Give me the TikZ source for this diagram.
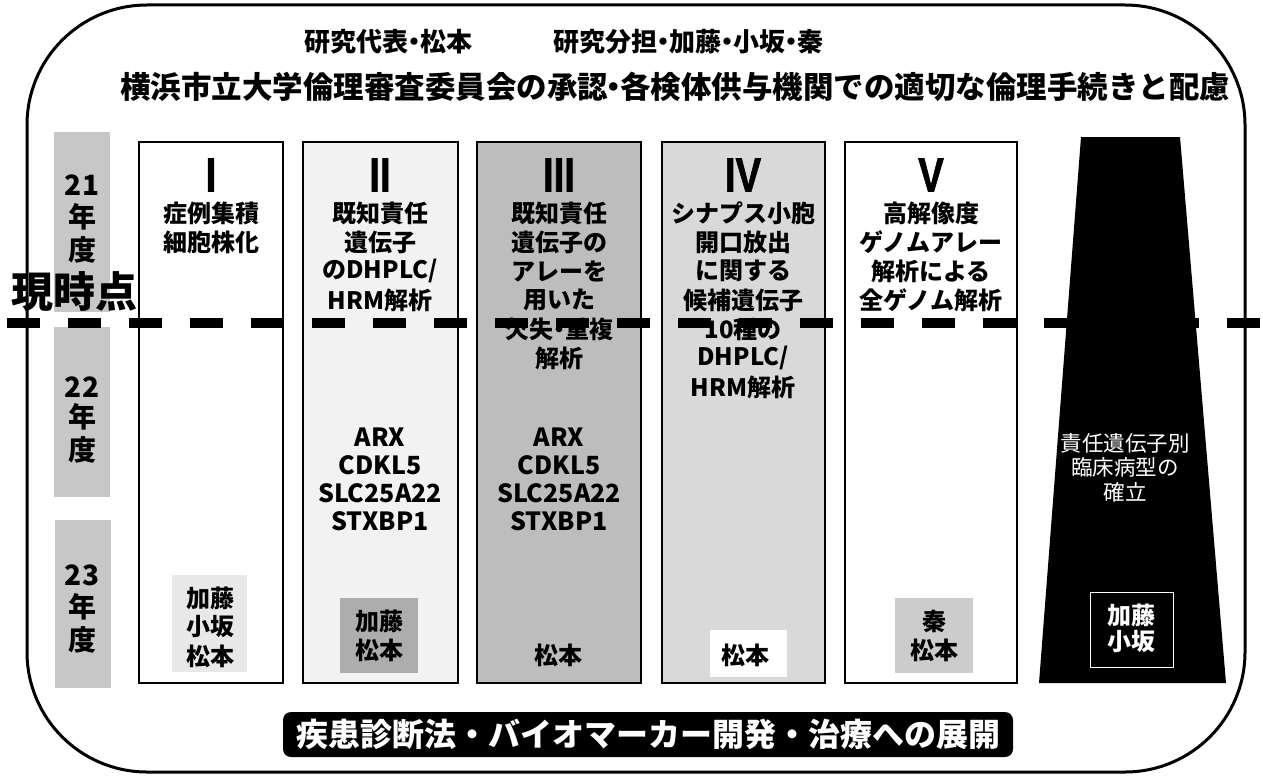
\documentclass[tikz,border=0pt]{standalone}
\usepackage{fontspec}
\setmainfont{Noto Sans CJK JP}
\newfontfamily\romfont{Liberation Sans}[FakeStretch=0.8, FakeBold=1.2]
\newcommand\nd{\makebox[12pt]{・}}
\definecolor{yeargray}{gray}{0.78}
\definecolor{c2gray}{gray}{0.95}
\definecolor{c3gray}{gray}{0.74}
\definecolor{c4gray}{gray}{0.85}
\definecolor{n1gray}{gray}{0.91}
\definecolor{n2gray}{gray}{0.68}
\definecolor{n5gray}{gray}{0.80}
\tikzset{
  colbox/.style={draw=black, line width=2.5pt, inner sep=0pt, minimum height=541pt},
  coltext/.style={font=\fontsize{24}{29}\selectfont\bfseries, inner sep=0pt, anchor=center},
  gene/.style={font=\fontsize{25}{27}\selectfont\bfseries, inner sep=0pt, anchor=center},
  roman/.style={font=\romfont\bfseries\fontsize{48}{48}\selectfont, inner sep=0pt, anchor=center},
  yearbox/.style={fill=yeargray, inner sep=0pt, minimum width=56pt},
  yeartext/.style={font=\fontsize{28}{28}\selectfont\bfseries, inner sep=0pt, anchor=center},
  namebox/.style={inner sep=0pt},
  nametext/.style={font=\fontsize{24}{24}\selectfont\bfseries, inner sep=0pt, anchor=center},
  toptext/.style={font=\fontsize{26}{26}\selectfont\bfseries, inner sep=0pt, anchor=center},
  nowline/.style={line width=10pt, dash pattern=on 33pt off 28pt},
}
\begin{document}
\begin{tikzpicture}[x=1pt,y=-1pt]
\useasboundingbox (0,0) rectangle (1263,776);
% outer frame
\draw[line width=3pt, rounded corners=120pt] (27,5) rectangle (1245,772);
% top texts
\node[toptext] (lead) at (388,42) {研究代表\nd 松本};
\node[toptext] (share) at (688,42) {研究分担\nd 加藤\nd 小坂\nd 秦};
\node[toptext, font=\fontsize{30.5}{30.5}\selectfont\bfseries] (ethics) at (675,87) {横浜市立大学倫理審査委員会の承認\nd 各検体供与機関での適切な倫理手続きと配慮};
% year boxes
\node[yearbox, minimum height=180pt] (y21) at (82,222) {};
\node[yearbox, minimum height=170pt] (y22) at (82,412) {};
\node[yearbox, minimum height=168pt] (y23) at (83,604) {};
% columns
\node[colbox, fill=white, minimum width=144pt] (c1) at (211,412.5) {};
\node[colbox, fill=c2gray, minimum width=155pt] (c2) at (380.5,412.5) {};
\node[colbox, fill=c3gray, minimum width=164pt] (c3) at (559,412.5) {};
\node[colbox, fill=c4gray, minimum width=163pt] (c4) at (743.5,412.5) {};
\node[colbox, fill=white, minimum width=172pt] (c5) at (931,412.5) {};
% trapezoid
\fill[black] (1081,137) -- (1180,137) -- (1226,683) -- (1039,683) -- cycle;
% name boxes
\node[namebox, fill=n1gray, minimum width=75pt, minimum height=97pt] (nb1) at (209.5,623.5) {};
\node[namebox, fill=n2gray, minimum width=78pt, minimum height=75pt] (nb2) at (379,635.5) {};
\node[namebox, fill=white, minimum width=77pt, minimum height=47pt] (nb4) at (748.5,653.5) {};
\node[namebox, fill=n5gray, minimum width=78pt, minimum height=75pt] (nb5) at (934,635.5) {};
\node[namebox, draw=white, line width=1pt, minimum width=83pt, minimum height=75pt] (nb6) at (1131.5,629.5) {};
% dashed "now" line
\coordinate (dl) at (7,323);
\coordinate (dr) at (1263,323);
\draw[nowline] (dl) -- (dr);
% now label
\node[inner sep=0pt, font=\fontsize{42}{42}\selectfont\bfseries] (now) at (75,292) {現時点};
% year texts
\foreach \t/\yy [count=\i] in {21/185,年/217,度/250,22/387,年/417,度/450,23/575,年/607,度/640}
  \node[yeartext] (yt\i) at (82,\yy) {\t};
% roman numerals
\node[roman] (r1) at (211,175) {I};
\node[roman] (r2) at (380,175) {II};
\node[roman] (r3) at (559,175) {III};
\node[roman] (r4) at (743,175) {IV};
\node[roman] (r5) at (931,175) {V};
% column texts
\foreach \t [count=\i] in {症例集積,細胞株化}
  \node[coltext] (ta\i) at (211,{213+29*(\i-1)}) {\t};
\foreach \t [count=\i] in {既知責任,遺伝子,のDHPLC/,HRM解析}
  \node[coltext] (tb\i) at (380,{213+29*(\i-1)}) {\t};
\foreach \t [count=\i] in {既知責任,遺伝子の,アレーを,用いた,欠失\nd 重複,解析}
  \node[coltext] (tc\i) at (559,{213+29*(\i-1)}) {\t};
\foreach \t [count=\i] in {シナプス小胞,開口放出,に関する,候補遺伝子,10種の,DHPLC/,HRM解析}
  \node[coltext] (td\i) at (743,{213+29*(\i-1)}) {\t};
\foreach \t [count=\i] in {高解像度,ゲノムアレー,解析による,全ゲノム解析}
  \node[coltext] (te\i) at (931,{213+29*(\i-1)}) {\t};
% gene lists
\foreach \t [count=\i] in {ARX,CDKL5,SLC25A22,STXBP1}
  \node[gene] (gb\i) at (380,{437+28*(\i-1)}) {\t};
\foreach \t [count=\i] in {ARX,CDKL5,SLC25A22,STXBP1}
  \node[gene] (gc\i) at (559,{437+28*(\i-1)}) {\t};
% names
\foreach \t [count=\i] in {加藤,小坂,松本}
  \node[nametext] (na\i) at (210,{598+29*(\i-1)}) {\t};
\foreach \t [count=\i] in {加藤,松本}
  \node[nametext] (nbt\i) at (379,{621+29*(\i-1)}) {\t};
\node[nametext] (nc1) at (558,655) {松本};
\node[nametext] (nd1) at (745,655) {松本};
\foreach \t [count=\i] in {秦,松本}
  \node[nametext] (ne\i) at (934,{621+29*(\i-1)}) {\t};
\foreach \t [count=\i] in {加藤,小坂}
  \node[nametext, text=white] (nf\i) at (1131,{615+27*(\i-1)}) {\t};
% trapezoid text
\foreach \t [count=\i] in {責任遺伝子別,臨床病型の,確立}
  \node[inner sep=0pt, text=white, font=\fontsize{21.5}{21.5}\selectfont] (tt\i) at (1125,{443+24.5*(\i-1)}) {\t};
% bottom banner
\node[fill=black, rounded corners=8pt, minimum width=730pt, minimum height=45pt, inner sep=0pt, text=white, font=\fontsize{32}{32}\selectfont\bfseries] (banner) at (648,734.5) {疾患診断法・バイオマーカー開発・治療への展開};
\end{tikzpicture}
\end{document}
